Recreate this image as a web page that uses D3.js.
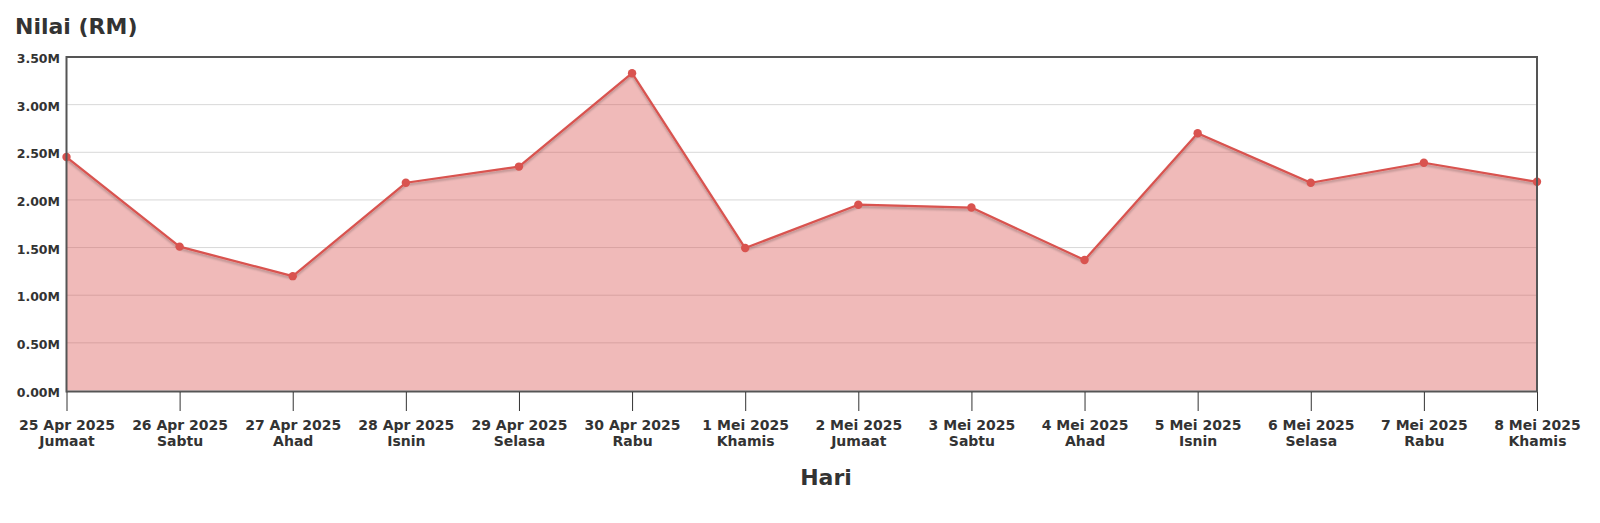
<!DOCTYPE html>
<html>
<head>
<meta charset="utf-8">
<script src="https://cdn.jsdelivr.net/npm/d3@7"></script>
<style>
  html, body { margin: 0; padding: 0; background: #fff; }
  svg { display: block; font-family: "DejaVu Sans", sans-serif; }
</style>
</head>
<body>
<svg id="chart" width="1600" height="523"></svg>
<script>
const dates = ["25 Apr 2025","26 Apr 2025","27 Apr 2025","28 Apr 2025","29 Apr 2025","30 Apr 2025","1 Mei 2025","2 Mei 2025","3 Mei 2025","4 Mei 2025","5 Mei 2025","6 Mei 2025","7 Mei 2025","8 Mei 2025"];
const days = ["Jumaat","Sabtu","Ahad","Isnin","Selasa","Rabu","Khamis","Jumaat","Sabtu","Ahad","Isnin","Selasa","Rabu","Khamis"];
const values = [2450000,1510000,1200000,2180000,2350000,3330000,1495000,1950000,1920000,1370000,2700000,2180000,2390000,2190000];
const yTicks = [0,500000,1000000,1500000,2000000,2500000,3000000,3500000];
const yTitle = "Nilai (RM)";
const xTitle = "Hari";

const svg = d3.select("#chart");
const m = {left: 66.5, right: 1537, top: 57, bottom: 390.5};
const lineColor = "#d9534f";

const x = d3.scalePoint().domain(d3.range(dates.length)).range([m.left, m.right]);
const y = d3.scaleLinear().domain([0, 3500000]).range([m.bottom, m.top]);

const defs = svg.append("defs");
const f = defs.append("filter").attr("id","shadow").attr("x","-5%").attr("y","-20%").attr("width","110%").attr("height","140%");
f.append("feDropShadow").attr("dx",0).attr("dy",2).attr("stdDeviation",1.2).attr("flood-color","#000").attr("flood-opacity",0.25);

// gridlines
svg.append("g")
  .selectAll("line").data(yTicks.slice(1, -1)).join("line")
  .attr("x1", m.left).attr("x2", m.right)
  .attr("y1", d => y(d)).attr("y2", d => y(d))
  .attr("stroke", "#d8d8d8").attr("stroke-width", 1);

// area
const area = d3.area().x((d,i) => x(i)).y0(y(0)).y1(d => y(d));
svg.append("path").datum(values).attr("d", area)
  .attr("fill", lineColor).attr("fill-opacity", 0.4);

// line
const line = d3.line().x((d,i) => x(i)).y(d => y(d));
svg.append("path").datum(values).attr("d", line)
  .attr("fill", "none").attr("stroke", lineColor).attr("stroke-width", 2.2)
  .attr("stroke-linejoin","round").attr("filter","url(#shadow)");

// dots
svg.append("g").selectAll("circle").data(values).join("circle")
  .attr("cx", (d,i) => x(i)).attr("cy", d => y(d)).attr("r", 4.2)
  .attr("fill", lineColor);

// frame
svg.append("rect")
  .attr("x", m.left).attr("y", m.top)
  .attr("width", m.right - m.left).attr("height", m.bottom + 1 - m.top)
  .attr("fill", "none").attr("stroke", "#555").attr("stroke-width", 2);

// y axis labels
const yAxis = d3.axisLeft(y).tickValues(yTicks).tickSize(0).tickPadding(6)
  .tickFormat(d => (d / 1e6).toFixed(2) + "M");
const gy = svg.append("g").attr("transform", `translate(${m.left - 0.5},0)`).call(yAxis);
gy.select(".domain").remove();
gy.selectAll("text").attr("font-family", "DejaVu Sans").attr("font-weight", "bold")
  .attr("font-size", 12.5).attr("fill", "#333").attr("dy", "0.45em");

// x axis
const xAxis = d3.axisBottom(x).tickSize(19).tickFormat("");
const gx = svg.append("g").attr("transform", `translate(0,${m.bottom + 1.5})`).call(xAxis);
gx.select(".domain").remove();
gx.selectAll("line").attr("stroke", "#333").attr("stroke-width", 1);
gx.selectAll(".tick").each(function(d) {
  const t = d3.select(this).append("text")
    .attr("fill", "#333").attr("font-family", "DejaVu Sans").attr("font-weight", "bold")
    .attr("font-size", 14).attr("text-anchor", "middle");
  t.append("tspan").attr("x", 0).attr("y", 37.5).text(dates[d]);
  t.append("tspan").attr("x", 0).attr("y", 53.5).text(days[d]);
});

// titles
svg.append("text").attr("x", 15).attr("y", 34)
  .attr("font-family", "DejaVu Sans").attr("font-weight", "bold").attr("font-size", 22)
  .attr("fill", "#333").text(yTitle);
svg.append("text").attr("x", 826).attr("y", 485).attr("text-anchor", "middle")
  .attr("font-family", "DejaVu Sans").attr("font-weight", "bold").attr("font-size", 22)
  .attr("fill", "#333").text(xTitle);
</script>
</body>
</html>
